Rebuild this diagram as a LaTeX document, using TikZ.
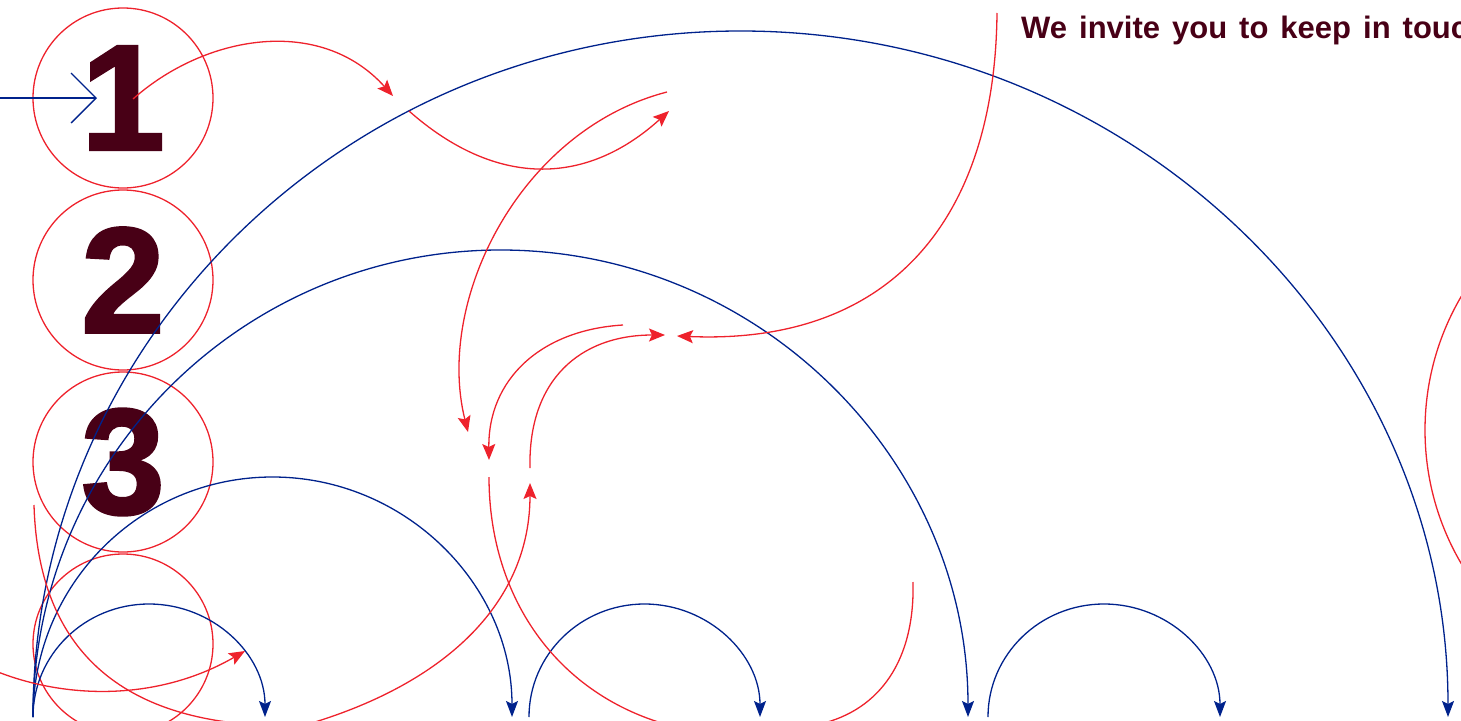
\documentclass[tikz,border=0pt]{standalone}
\usepackage{fontspec}
\setmainfont{Liberation Sans}
\newfontfamily\numfont{Liberation Sans Bold}[FakeBold=2]
\usetikzlibrary{arrows.meta}
\definecolor{redline}{RGB}{238,34,44}
\definecolor{navy}{RGB}{0,34,140}
\definecolor{maroon}{RGB}{72,0,22}

\begin{document}
\begin{tikzpicture}[x=1pt, y=1pt,
    ring/.style={draw=redline, line width=1.3pt, circle, minimum size=180pt, inner sep=0pt},
    digit/.style={font=\numfont\fontsize{150}{150}\selectfont, text=maroon, inner sep=0pt},
    rline/.style={draw=redline, line width=1.3pt},
    rptr/.style={rline, -{Stealth[length=16pt, width=13pt, inset=3pt]}},
    bline/.style={draw=navy, line width=1.3pt},
    bptr/.style={bline, -{Stealth[length=16pt, width=12pt, inset=3pt]}}
]
\useasboundingbox (0,0) rectangle (1461,-720);
\clip (0,0) rectangle (1461,-720);

% Rings and numbers
\foreach \i/\y in {1/-98, 2/-280, 3/-462, 4/-644}
  \node[ring] (c\i) at (123,\y) {};
\foreach \i in {1,2,3}
  \node[digit] (n\i) at (c\i.center) {\i};

% Entry arrow
\coordinate (entry) at (-5,-98);
\draw[bline, -{Straight Barb[length=25pt, width=50pt]}] (entry) -- (97,-98);

% Blue arcs, all standing on the bottom line
\foreach \x/\a/\b in {33/707.5/686, 33/467.5/467, 33/239.5/240, 33/116/113, 529/115.5/113, 988/116/113}
  \draw[bptr] (\x,-717) arc[start angle=180, end angle=0, x radius=\a pt, y radius=\b pt];

% Red curves
\draw[rptr] (133,-99) .. controls (205,-35) and (320,-15) .. (393,-96);
\draw[rptr] (409,-111) .. controls (495,-187) and (585,-187) .. (669,-111);
\draw[rptr] (667,-92) .. controls (520,-130) and (435,-300) .. (468,-432);
\draw[rptr] (623,-325) .. controls (540,-330) and (488,-380) .. (489,-460);
\draw[rline] (489,-477) .. controls (489,-600) and (560,-700) .. (680,-728);
\draw[rptr] (315,-722) .. controls (450,-680) and (530,-600) .. (530,-483);
\draw[rptr] (530,-468) .. controls (528,-380) and (580,-335) .. (665,-335);
\draw[rptr] (997,-13) .. controls (995,-220) and (890,-345) .. (677,-336);
\draw[rline] (913,-582) .. controls (915,-660) and (880,-710) .. (820,-724);
\draw[rline] (34,-505) .. controls (38,-640) and (110,-712) .. (245,-724);
\draw[rptr] (-2,-672) .. controls (70,-700) and (160,-700) .. (245,-651);
\draw[rline] (1689,-430) circle[radius=264pt];

% Heading
\node[font=\bfseries\fontsize{31}{34}\selectfont, text=maroon, anchor=base west, inner sep=0pt] (invite) at (1021,-38) {\spaceskip=12pt We invite you to keep in touch};
\end{tikzpicture}
\end{document}
